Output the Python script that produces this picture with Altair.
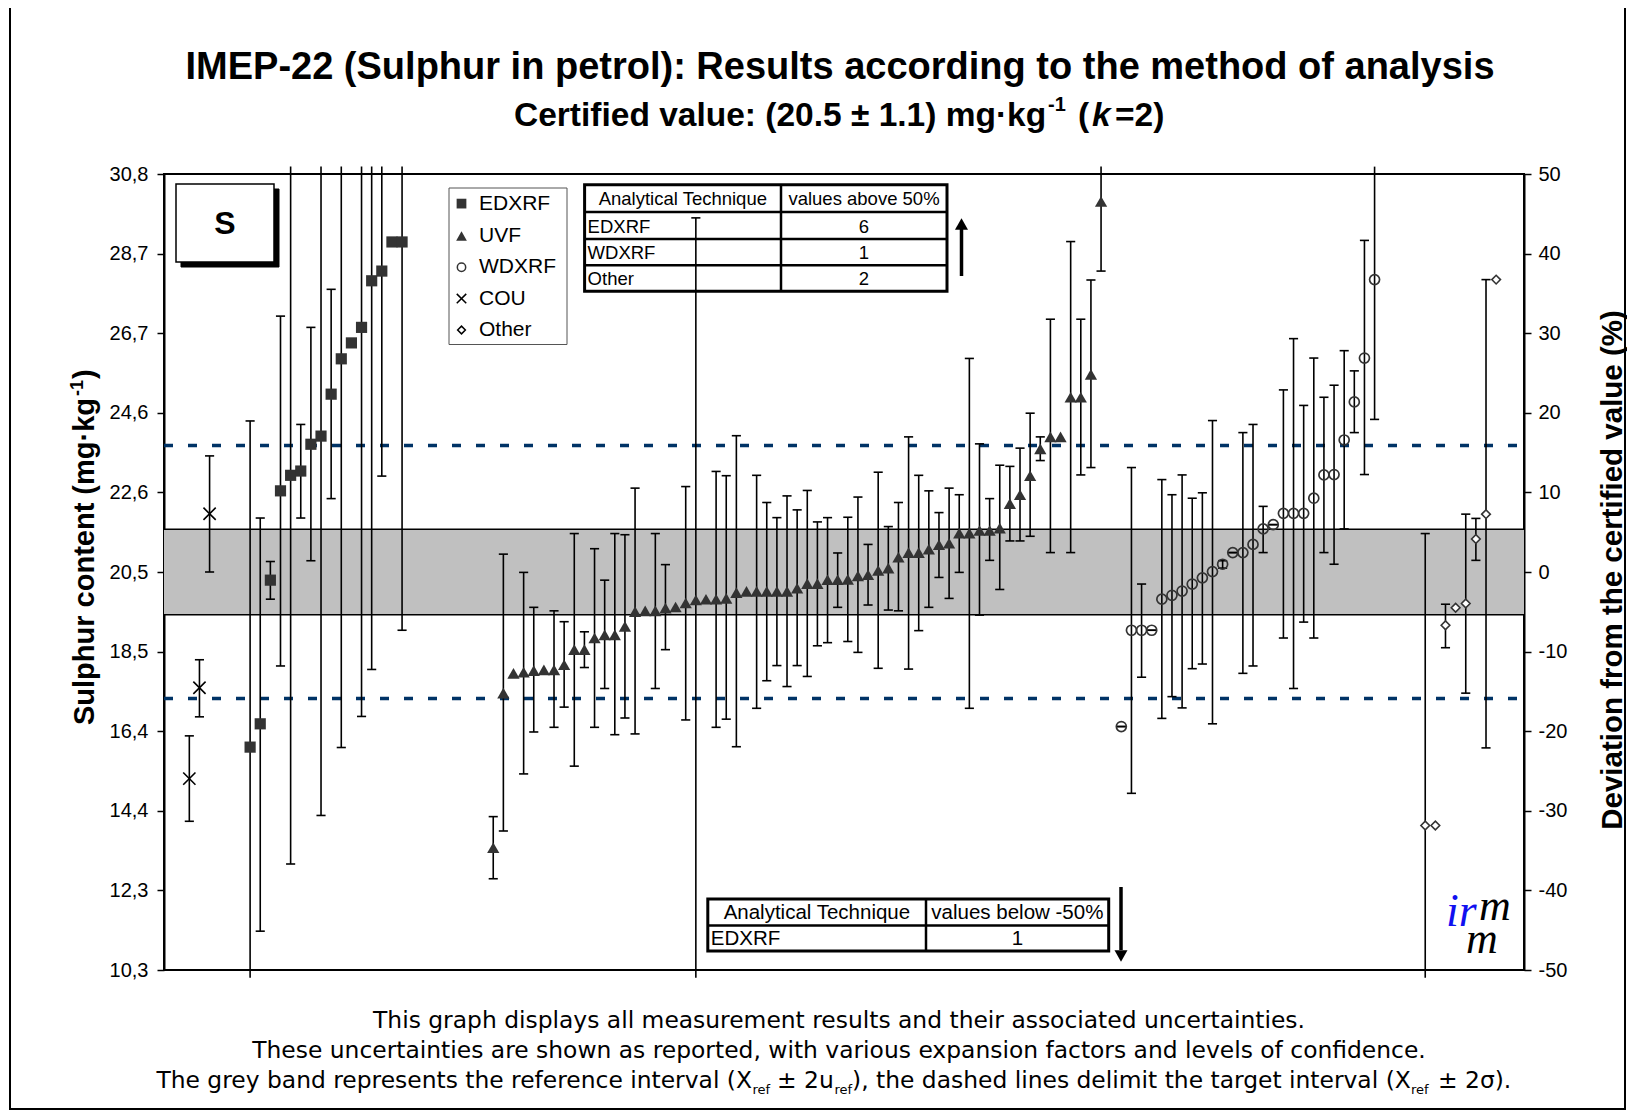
import altair as alt
import pandas as pd

# ---------------- values ----------------
CERT = 20.5        # certified value (mg/kg)
U_CERT = 1.1       # expanded uncertainty, k=2
SIGMA = 1.63       # standard deviation for proficiency assessment

y_tick_labels = ["10,3", "12,3", "14,4", "16,4", "18,5", "20,5", "22,6", "24,6", "26,7", "28,7", "30,8"]
dev_ticks = [-50, -40, -30, -20, -10, 0, 10, 20, 30, 40, 50]

cou_slot = [3, 4, 5]
cou_val = [15.18, 17.52, 22.00]
cou_lo = [14.08, 16.77, 20.50]
cou_hi = [16.28, 18.24, 23.49]

edx_slot = list(range(9, 25))
edx_val = [15.99, 16.59, 20.29, 22.59, 22.99, 23.10, 23.79, 24.00, 25.08, 25.99, 26.40, 26.80, 28.00, 28.25, 29.00, 29.00]
edx_lo = [7.60, 11.25, 19.80, 18.08, 12.98, 21.89, 20.79, 14.23, 22.39, 15.98, None, 16.78, 17.99, 22.97, None, 19.00]
edx_hi = [24.39, 21.89, 20.77, 27.09, 33.00, 24.30, 26.80, 33.77, 27.78, 36.00, None, 36.82, 38.00, 33.53, None, 39.00]

uvf_slot = list(range(33, 94))
uvf_val = [13.40, 17.38, 17.89, 17.92, 17.96, 17.98, 17.98, 18.11, 18.50, 18.50, 18.80, 18.88, 18.88, 19.10,
           19.48, 19.50, 19.50, 19.57, 19.60, 19.70, 19.78, 19.80, 19.80, 19.82, 19.97, 20.00, 20.00, 20.00,
           20.00, 20.00, 20.08, 20.20, 20.20, 20.30, 20.30, 20.31, 20.40, 20.43, 20.54, 20.60, 20.88, 21.00,
           21.00, 21.09, 21.20, 21.24, 21.50, 21.50, 21.57, 21.57, 21.63, 22.26, 22.49, 22.98, 23.67, 23.98,
           23.98, 25.00, 25.00, 25.59, 30.04]
uvf_lo = [12.60, 13.83, None, 15.30, 16.38, None, 16.50, 17.02, 15.50, 18.04, 16.50, 17.50, 16.31, 16.74,
          16.33, None, 17.50, 18.50, None, 16.69, 9.98, None, 16.50, 16.71, 16.00, None, 16.99, 17.70,
          18.09, 17.55, 18.09, 17.81, 18.60, 18.68, 19.59, 18.71, 18.43, 19.65, 18.02, 19.52, 19.50, 18.00,
          18.99, 19.59, 20.36, 19.82, 20.49, 16.99, 19.39, 20.80, 20.05, 21.30, 21.30, 21.42, 23.37, 21.00,
          None, 21.00, 23.00, 23.19, 28.25]
uvf_hi = [14.20, 20.96, None, 20.49, 19.59, None, 19.50, 19.22, 21.49, 18.96, 21.10, 20.29, 21.49, 21.46,
          22.66, None, 21.49, 20.69, None, 22.70, 29.62, None, 23.09, 22.98, 24.01, None, 22.99, 22.29,
          21.90, 22.46, 22.10, 22.60, 21.79, 21.90, 20.99, 21.91, 22.43, 21.21, 23.07, 21.67, 22.29, 23.98,
          22.99, 22.59, 22.03, 22.66, 22.49, 26.00, 23.80, 22.39, 23.25, 23.22, 23.69, 24.59, 23.98, 27.01,
          None, 29.01, 27.01, 28.02, 31.83]

wdx_slot = list(range(95, 121))
wdx_val = [16.52, 19.00, 19.00, 19.00, 19.80, 19.90, 20.01, 20.19, 20.35, 20.51, 20.70, 21.00, 21.00,
           21.21, 21.61, 21.72, 22.01, 22.01, 22.01, 22.40, 23.00, 23.01, 23.90, 24.88, 26.01, 28.03]
wdx_lo = [16.52, 14.80, 17.79, 19.00, 16.73, 17.29, 17.00, 18.01, 18.13, 16.59, 20.60, 21.00, 17.89,
          18.08, 21.00, 21.72, 18.80, 17.50, 19.21, 18.80, 21.00, 20.70, 21.61, 24.09, 23.01, 24.43]
wdx_hi = [16.52, 23.19, 20.19, 19.00, 22.88, 22.49, 23.00, 22.40, 22.54, 24.40, 20.79, 21.00, 24.09,
          24.30, 22.19, 21.72, 25.19, 26.51, 24.79, 26.01, 25.00, 25.31, 26.20, 25.68, 29.04, 31.63]

oth_slot = list(range(125, 133))
oth_val = [13.97, 13.97, 19.13, 19.58, 19.69, 21.35, 21.99, 28.03]
oth_lo = [6.45, None, 18.55, None, 17.38, 20.80, 15.97, None]
oth_hi = [21.49, None, 19.67, None, 21.99, 21.88, 28.03, None]

methods = ["EDXRF", "UVF", "WDXRF", "COU", "Other"]
above_rows = [("EDXRF", "6"), ("WDXRF", "1"), ("Other", "2")]
below_rows = [("EDXRF", "1")]

# ---------------- build table ----------------
rows = []
for m, sl, va, lo, hi in [("COU", cou_slot, cou_val, cou_lo, cou_hi),
                          ("EDXRF", edx_slot, edx_val, edx_lo, edx_hi),
                          ("UVF", uvf_slot, uvf_val, uvf_lo, uvf_hi),
                          ("WDXRF", wdx_slot, wdx_val, wdx_lo, wdx_hi),
                          ("Other", oth_slot, oth_val, oth_lo, oth_hi)]:
    for s, v, l, h in zip(sl, va, lo, hi):
        rows.append({"method": m, "slot": s, "val": v, "lo": l, "hi": h})
df = pd.DataFrame(rows)

N_SLOTS = 134.25
YMIN, YMAX = CERT * 0.5, CERT * 1.5
W, H = 1360, 796
SANS = "Liberation Sans, Arial, sans-serif"
SERIF = "Liberation Serif, Times New Roman, serif"
VERD = "DejaVu Sans, Verdana, sans-serif"
MARK = "#333333"

xs = alt.Scale(domain=[0, N_SLOTS], nice=False, zero=False)
ys = alt.Scale(domain=[YMIN, YMAX], nice=False, zero=False)
tick_vals = [YMIN + k * (YMAX - YMIN) / 10 for k in range(11)]
lab_arr = "[" + ",".join("'%s'" % t for t in y_tick_labels) + "]"
y_axis = alt.Axis(values=tick_vals, title=None, grid=False, labelFontSize=20, labelFont=SANS,
                  labelPadding=9, tickSize=7,
                  labelExpr=lab_arr + "[round((datum.value - %g) / %g)]" % (YMIN, (YMAX - YMIN) / 10))

ONE = pd.DataFrame({"k": [0]})


def txt(s, x, y, size, weight="normal", align="left", baseline="alphabetic", angle=0,
        font=SANS, color="black", style="normal"):
    return alt.Chart(ONE).mark_text(text=s, fontSize=size, fontWeight=weight, align=align,
                                    baseline=baseline, angle=angle, font=font, color=color,
                                    fontStyle=style).encode(x=alt.value(x), y=alt.value(y))


def box(x1, x2, y1, y2, fill="transparent", stroke="black", sw=1.5):
    return alt.Chart(ONE).mark_rect(fill=fill, stroke=stroke, strokeWidth=sw).encode(
        x=alt.value(x1), x2=alt.value(x2), y=alt.value(y1), y2=alt.value(y2))


def line(x1, x2, y1, y2, sw=1.5, color="black"):
    return alt.Chart(ONE).mark_rule(color=color, strokeWidth=sw).encode(
        x=alt.value(x1), x2=alt.value(x2), y=alt.value(y1), y2=alt.value(y2))


def sym(x, y, shape, size, filled, fill=None, stroke=MARK, sw=1.5):
    kw = dict(shape=shape, size=size, filled=filled, stroke=stroke, strokeWidth=sw, opacity=1)
    if fill is not None:
        kw["fill"] = fill
    return alt.Chart(ONE).mark_point(**kw).encode(x=alt.value(x), y=alt.value(y))


# ---------------- reference band and target lines ----------------
band_df = pd.DataFrame({"lo": [CERT - U_CERT], "hi": [CERT + U_CERT]})
band = alt.Chart(band_df).mark_rect(color="#C0C0C0").encode(
    x=alt.value(0), x2=alt.value(W), y=alt.Y("lo:Q", scale=ys, axis=y_axis), y2="hi:Q")
band_edges = alt.Chart(pd.DataFrame({"y": [CERT - U_CERT, CERT + U_CERT]})).mark_rule(
    color="black", strokeWidth=1.5).encode(x=alt.value(0), x2=alt.value(W),
                                           y=alt.Y("y:Q", scale=ys, axis=y_axis))
target = alt.Chart(pd.DataFrame({"y": [CERT - 2 * SIGMA, CERT + 2 * SIGMA]})).mark_rule(
    color="#003366", strokeWidth=3.5, strokeDash=[9, 15]).encode(
    x=alt.value(0), x2=alt.value(W), y=alt.Y("y:Q", scale=ys, axis=y_axis))

# ---------------- error bars and markers ----------------
base = alt.Chart(df).transform_calculate(xp="datum.slot - 0.5")
bars = base.transform_filter("isValid(datum.lo)").transform_calculate(
    ylo="max(datum.lo, %g)" % (YMIN - 0.2), yhi="min(datum.hi, %g)" % (YMAX + 0.19)
).mark_rule(color="black", strokeWidth=1.6).encode(
    x=alt.X("xp:Q", scale=xs, axis=None), y=alt.Y("ylo:Q", scale=ys, axis=y_axis), y2="yhi:Q")
cap_lo = alt.Chart(df).transform_filter("isValid(datum.lo) && datum.lo >= %g" % YMIN).transform_calculate(
    c1="datum.slot - 0.95", c2="datum.slot - 0.05").mark_rule(color="black", strokeWidth=1.6).encode(
    x=alt.X("c1:Q", scale=xs, axis=None), x2="c2:Q", y=alt.Y("lo:Q", scale=ys, axis=y_axis))
cap_hi = alt.Chart(df).transform_filter("isValid(datum.hi) && datum.hi <= %g" % YMAX).transform_calculate(
    c1="datum.slot - 0.95", c2="datum.slot - 0.05").mark_rule(color="black", strokeWidth=1.6).encode(
    x=alt.X("c1:Q", scale=xs, axis=None), x2="c2:Q", y=alt.Y("hi:Q", scale=ys, axis=y_axis))


def pts(method, **mk):
    return base.transform_filter(alt.datum.method == method).mark_point(**mk).encode(
        x=alt.X("xp:Q", scale=xs, axis=None), y=alt.Y("val:Q", scale=ys, axis=y_axis))


XSHAPE = "M-1,-1L1,1M-1,1L1,-1"
p_edx = pts("EDXRF", shape="square", filled=True, color=MARK, size=125, opacity=1)
p_uvf = pts("UVF", shape="triangle-up", filled=True, color=MARK, size=150, opacity=1)
p_wdx = pts("WDXRF", shape="circle", filled=False, color=MARK, strokeWidth=1.7, size=100, opacity=1)
p_cou = pts("COU", shape=XSHAPE, filled=False, color="black", strokeWidth=1.6, size=150, opacity=1)
p_oth = pts("Other", shape="diamond", filled=True, fill="white", stroke=MARK, strokeWidth=1.6,
            size=75, opacity=1)

# ---------------- annotations (pixel positions relative to the plot area) ----------------
ann = []
ann.append(box(-154, 1461, -168, 935, sw=2))                     # outer frame
ann.append(txt("IMEP-22 (Sulphur in petrol): Results according to the method of analysis",
               676, -95, 38, weight="bold", align="center"))
ann.append(txt("Certified value: (20.5 \u00b1 1.1) mg\u00b7kg", 350, -48.5, 33.5, weight="bold"))
ann.append(txt("-1", 884, -63, 20, weight="bold"))
ann.append(txt("(", 914, -48.5, 33.5, weight="bold"))
ann.append(txt("k", 928, -48.5, 33.5, weight="bold", style="italic"))
ann.append(txt("=2)", 951, -48.5, 33.5, weight="bold"))

# "S" box with shadow
ann.append(box(17, 115, 15, 93, fill="black", stroke="black", sw=1))
ann.append(box(12, 110, 10, 88, fill="white", stroke="black", sw=1.5))
ann.append(txt("S", 61, 50, 32, weight="bold", align="center", baseline="middle"))

# legend
ann.append(box(285, 403, 14, 170.5, fill="white", stroke="#555555", sw=1))
leg_y = [29.6, 62, 93.3, 124.6, 156]
ann.append(sym(297.5, leg_y[0], "square", 95, True, fill=MARK, stroke=MARK, sw=0))
ann.append(sym(297.5, leg_y[1], "triangle-up", 115, True, fill=MARK, stroke=MARK, sw=0))
ann.append(sym(297.5, leg_y[2], "circle", 70, False, stroke=MARK, sw=1.5))
ann.append(sym(297.5, leg_y[3], XSHAPE, 90, False, stroke="black", sw=1.5))
ann.append(sym(297.5, leg_y[4], "diamond", 60, True, fill="white", stroke="black", sw=1.5))
for lab, yy in zip(methods, leg_y):
    ann.append(txt(lab, 315, yy, 21, baseline="middle"))

# table: values above 50 %
tl, tr, tt, tb, tc = 420.6, 783, 10.8, 117.3, 617
rlines = [37.9, 65.1, 91.2]
ann.append(box(tl, tr, tt, tb, sw=3))
ann.append(line(tc, tc, tt, tb, sw=2.5))
for ry in rlines:
    ann.append(line(tl, tr, ry, ry, sw=2.5))
ann.append(txt("Analytical Technique", (tl + tc) / 2, (tt + rlines[0]) / 2 + 1, 18.5, align="center",
               baseline="middle"))
ann.append(txt("values above 50%", (tc + tr) / 2, (tt + rlines[0]) / 2 + 1, 18.5, align="center",
               baseline="middle"))
edges = rlines + [tb]
for k, (tech, n) in enumerate(above_rows):
    cy = (edges[k] + edges[k + 1]) / 2 + 1
    ann.append(txt(tech, tl + 3, cy, 18.5, baseline="middle"))
    ann.append(txt(n, (tc + tr) / 2, cy, 18.5, align="center", baseline="middle"))
ann.append(line(797.5, 797.5, 102, 55, sw=3.5))
ann.append(sym(797.5, 50, "triangle-up", 170, True, fill="black", stroke="black", sw=0))

# table: values below -50 %
bl, br, bt, bb, bc, brow = 543.8, 944.7, 724.9, 777, 762, 751.5
ann.append(box(bl, br, bt, bb, sw=3))
ann.append(line(bc, bc, bt, bb, sw=2.5))
ann.append(line(bl, br, brow, brow, sw=2.5))
ann.append(txt("Analytical Technique", (bl + bc) / 2, (bt + brow) / 2 + 1, 20.5, align="center",
               baseline="middle"))
ann.append(txt("values below -50%", (bc + br) / 2, (bt + brow) / 2 + 1, 20.5, align="center",
               baseline="middle"))
for tech, n in below_rows:
    ann.append(txt(tech, bl + 3, (brow + bb) / 2 + 1, 20.5, baseline="middle"))
    ann.append(txt(n, (bc + br) / 2, (brow + bb) / 2 + 1, 20.5, align="center", baseline="middle"))
ann.append(line(957, 957, 713, 776, sw=3.5))
ann.append(sym(957, 782, "triangle-down", 170, True, fill="black", stroke="black", sw=0))

# irmm logo
ann.append(txt("ir", 1282, 752, 46, font=SERIF, style="italic", color="#1010F0"))
ann.append(txt("m", 1315, 746, 44, font=SERIF, style="italic"))
ann.append(txt("m", 1302, 779, 44, font=SERIF, style="italic"))

# axis titles
ann.append(txt("Sulphur content (mg\u00b7kg", -70, 224, 29, weight="bold", align="right", angle=270))
ann.append(txt("-1", -81, 222, 18, weight="bold", align="left", angle=270))
ann.append(txt(")", -70, 205, 29, weight="bold", align="left", angle=270))
ann.append(txt("Deviation from the certified value (%)", 1458, 396, 29.5, weight="bold",
               align="center", angle=270))

# footnote
ann.append(txt("This graph displays all measurement results and their associated uncertainties.",
               675, 854, 23.4, font=VERD, align="center"))
ann.append(txt("These uncertainties are shown as reported, with various expansion factors and levels of confidence.",
               675, 884, 23.4, font=VERD, align="center"))
ann.append(txt("The grey band represents the reference interval (X", 588, 914, 23.4, font=VERD, align="right"))
ann.append(txt("ref", 588.5, 920, 13, font=VERD))
ann.append(txt("\u00b1 2u", 613, 914, 23.4, font=VERD))
ann.append(txt("ref", 670.5, 920, 13, font=VERD))
ann.append(txt("), the dashed lines delimit the target interval (X", 688, 914, 23.4, font=VERD))
ann.append(txt("ref", 1247, 920, 13, font=VERD))
ann.append(txt("\u00b1 2\u03c3).", 1274, 914, 23.4, font=VERD))

inner = alt.layer(band, band_edges, target, *ann, bars, cap_lo, cap_hi,
                  p_oth, p_wdx, p_cou, p_edx, p_uvf)

right = alt.Chart(pd.DataFrame({"d": [0]})).mark_point(opacity=0).encode(
    y=alt.Y("d:Q", scale=alt.Scale(domain=[-50, 50], nice=False, zero=False),
            axis=alt.Axis(orient="right", values=dev_ticks, title=None, grid=False,
                          labelFontSize=20, labelFont=SANS, tickSize=7,
                          labelExpr="'' + datum.value", labelPadding=7)))

chart = alt.layer(inner, right).resolve_scale(y="independent").properties(
    width=W, height=H,
    padding={"left": 156, "top": 166, "right": 103, "bottom": 141},
    autosize=alt.AutoSizeParams(type="none"),
    background="white",
).configure_view(stroke="black", strokeWidth=2).configure_axis(
    domainColor="black", domainWidth=2, tickColor="black", tickWidth=1.5, tickSize=7,
    labelFont=SANS, labelFontSize=20, labelColor="black", labelPadding=9, grid=False
)

chart.save("out.html", embed_options={"renderer": "svg", "actions": False})
